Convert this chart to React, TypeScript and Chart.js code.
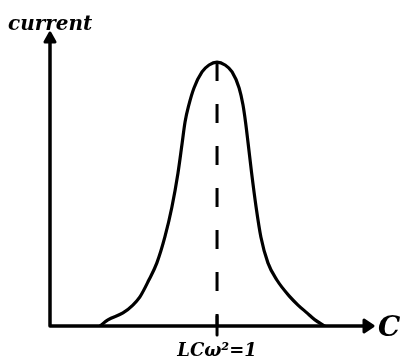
import React, { useEffect, useRef } from "react";
import { Chart, registerables } from "chart.js";

Chart.register(...registerables);

// Resonance curve: current against capacitance C (arbitrary units)
const capacitance = [1.56, 1.81, 2.28, 2.59, 2.81, 3.09, 3.34, 3.59, 3.81, 4.0, 4.13, 4.22, 4.34, 4.5, 4.75, 4.97, 5.22, 5.47, 5.69, 5.91, 6.03, 6.11, 6.19, 6.3, 6.44, 6.59, 6.81, 7.09, 7.5, 7.75, 8.03, 8.28, 8.59];
const current = [0, 0.21, 0.45, 0.72, 1.0, 1.58, 2.17, 3.06, 4.09, 5.26, 6.29, 7.01, 7.6, 8.18, 8.73, 8.97, 9.07, 8.97, 8.73, 8.18, 7.6, 7.01, 6.29, 5.26, 4.09, 3.06, 2.17, 1.58, 1.0, 0.72, 0.45, 0.21, 0];

const resonanceC = 5.22;
const peakCurrent = 9.07;

const yAxisTitle = "current";
const xAxisTitle = "C";
const resonanceLabel = "LCω²=1";

const X_MAX = 10;
const Y_MAX = 10;

const sketchAxes = {
  id: "sketchAxes",
  beforeDatasetsDraw(chart: any) {
    const { ctx, chartArea } = chart;
    const { left, right, top, bottom } = chartArea;
    const x = chart.scales.x;
    ctx.save();
    ctx.strokeStyle = "#000";
    ctx.fillStyle = "#000";
    ctx.lineCap = "round";
    ctx.lineJoin = "round";
    ctx.lineWidth = 3.5;

    // axis lines
    ctx.beginPath();
    ctx.moveTo(left, top + 2);
    ctx.lineTo(left, bottom);
    ctx.lineTo(right, bottom);
    ctx.stroke();

    // arrowheads
    ctx.lineWidth = 3;
    ctx.beginPath();
    ctx.moveTo(left - 5, top + 7);
    ctx.lineTo(left, top - 2);
    ctx.lineTo(left + 5, top + 7);
    ctx.closePath();
    ctx.fill();
    ctx.stroke();

    ctx.beginPath();
    ctx.moveTo(right - 6, bottom - 6);
    ctx.lineTo(right + 3, bottom);
    ctx.lineTo(right - 6, bottom + 6);
    ctx.closePath();
    ctx.fill();
    ctx.stroke();

    // resonance tick
    const rx = x.getPixelForValue(resonanceC);
    ctx.lineWidth = 3;
    ctx.beginPath();
    ctx.moveTo(rx, bottom - 10);
    ctx.lineTo(rx, bottom + 9);
    ctx.stroke();

    // texts
    ctx.textBaseline = "alphabetic";
    ctx.textAlign = "left";
    ctx.font = "bold italic 20px 'DejaVu Serif'";
    ctx.fillText(yAxisTitle, 8, 30);

    ctx.font = "bold italic 28px 'DejaVu Serif'";
    ctx.fillText(xAxisTitle, right + 8, bottom + 10);

    ctx.textAlign = "center";
    ctx.font = "bold italic 18px 'DejaVu Serif'";
    ctx.fillText(resonanceLabel, rx, bottom + 30);
    ctx.restore();
  },
};

export default function App() {
  const canvasRef = useRef<HTMLCanvasElement | null>(null);

  useEffect(() => {
    if (!canvasRef.current) return;
    const chart = new Chart(canvasRef.current, {
      type: "line",
      data: {
        datasets: [
          {
            data: capacitance.map((c, i) => ({ x: c, y: current[i] })),
            borderColor: "#000",
            borderWidth: 3.2,
            pointRadius: 0,
            cubicInterpolationMode: "monotone",
            fill: false,
          },
          {
            data: [
              { x: resonanceC, y: peakCurrent },
              { x: resonanceC, y: 0 },
            ],
            borderColor: "#000",
            borderWidth: 3,
            borderDash: [19, 23],
            borderCapStyle: "butt",
            pointRadius: 0,
            fill: false,
          },
        ],
      },
      options: {
        responsive: false,
        animation: false,
        events: [],
        layout: { padding: { left: 50, top: 35, right: 31, bottom: 32 } },
        plugins: { legend: { display: false }, tooltip: { enabled: false } },
        scales: {
          x: { type: "linear", min: 0, max: X_MAX, display: false },
          y: { type: "linear", min: 0, max: Y_MAX, display: false },
        },
      },
      plugins: [sketchAxes],
    });
    return () => chart.destroy();
  }, []);

  return (
    <div style={{ position: "fixed", left: 0, top: 0, width: 401, height: 358, background: "#fff" }}>
      <canvas ref={canvasRef} width={401} height={358} />
    </div>
  );
}
